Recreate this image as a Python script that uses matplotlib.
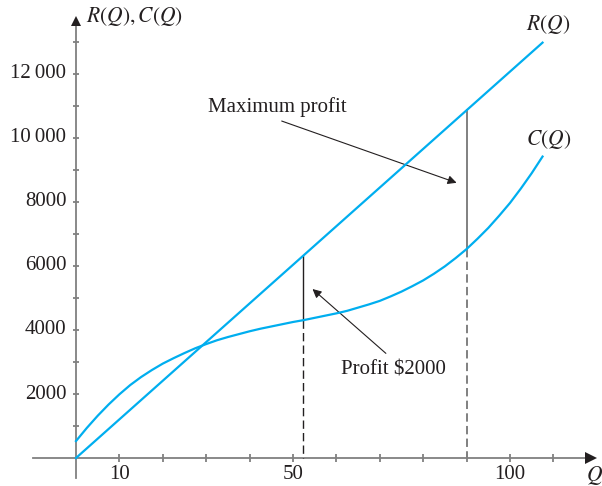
import matplotlib
matplotlib.use('Agg')
import matplotlib.pyplot as plt
import numpy as np

plt.rcParams['font.family'] = ['Liberation Serif', 'DejaVu Serif']
plt.rcParams['mathtext.fontset'] = 'stix'

# data
q_rev = [0, 107.5]
revenue = [0, 12980]

q_cost = [0, 2.5, 5, 7.5, 10, 12.5, 15, 17.5, 20, 22.5, 25, 27.5, 30, 32.5,
          35, 37.5, 40, 42.5, 45, 47.5, 50, 52.5, 55, 57.5, 60, 62.5, 65,
          67.5, 70, 72.5, 75, 77.5, 80, 82.5, 85, 87.5, 90, 92.5, 95, 97.5,
          100, 102.5, 105, 107.5]
cost = [530, 940, 1320, 1670, 1990, 2280, 2530, 2750, 2950, 3120, 3280, 3430,
        3560, 3680, 3780, 3870, 3960, 4040, 4110, 4180, 4250, 4310, 4380,
        4450, 4520, 4600, 4700, 4800, 4910, 5050, 5200, 5370, 5550, 5760,
        5990, 6250, 6530, 6850, 7190, 7570, 7970, 8420, 8900, 9420]

q_marks = [52.2, 90]          # profit $2000 and maximum profit
x_ticks = [10, 20, 30, 40, 50, 60, 70, 80, 90, 100, 110]
x_labels = {10: '10', 50: '50', 100: '100'}
y_ticks = list(range(1000, 14000, 1000))
y_labels = {2000: '2000', 4000: '4000', 6000: '6000', 8000: '8000',
            10000: '10\u2009000', 12000: '12\u2009000'}

blue = '#00AEEF'
ink = '#231F20'
axis_col = '#808080'

fig = plt.figure(figsize=(6.02, 4.86), dpi=100)
ax = fig.add_axes([0, 0, 1, 1])
ax.set_xlim(-17.51, 121.2)
ax.set_ylim(-875, 14312.5)
ax.axis('off')

# axes with arrows
ax.plot([-9.9, 118.5], [0, 0], color=axis_col, lw=1.3, zorder=1)
ax.plot([0, 0], [-625, 13500], color=axis_col, lw=1.3, zorder=1)
ax.plot(118.6, 0, marker='>', ms=8, color=ink, mew=0, zorder=3)
ax.plot(0, 13650, marker='^', ms=7, color=ink, mew=0, zorder=3)

# ticks
ax.vlines(x_ticks, -125, 125, color=axis_col, lw=1.3)
ax.hlines(y_ticks, -0.8, 0.8, color=axis_col, lw=1.3)
for x, lab in x_labels.items():
    ax.text(x, -500, lab, ha='center', va='center', fontsize=15, color=ink)
for y, lab in y_labels.items():
    ax.text(-2.2, y, lab, ha='right', va='center', fontsize=15, color=ink)

ax.text(2.2, 13800, r'$R(Q), C(Q)$', ha='left', va='center', fontsize=15.5, color=ink)
ax.text(119.5, -560, r'$Q$', ha='center', va='center', fontsize=15.5, color=ink)

# curves
ax.plot(q_rev, revenue, color=blue, lw=1.6, zorder=4)
ax.plot(q_cost, cost, color=blue, lw=1.6, zorder=4, solid_joinstyle='round')
ax.text(108.8, 13550, r'$R(Q)$', ha='center', va='center', fontsize=15.5, color=ink)
ax.text(108.8, 9940, r'$C(Q)$', ha='center', va='center', fontsize=15.5, color=ink)

# profit segments
r_m = np.interp(q_marks, q_rev, revenue)
c_m = np.interp(q_marks, q_cost, cost)
ax.plot([q_marks[0]] * 2, [c_m[0], r_m[0]], color=ink, lw=1.0, zorder=2)
ax.plot([q_marks[0]] * 2, [c_m[0], 0], color=ink, lw=1.0, ls=(0, (6, 3)), zorder=2)
ax.plot([q_marks[1]] * 2, [c_m[1], r_m[1]], color=axis_col, lw=1.4, zorder=2)
ax.plot([q_marks[1]] * 2, [c_m[1], 0], color=axis_col, lw=1.4, ls=(0, (4.3, 2.2)), zorder=2)

# annotations
arrow = dict(arrowstyle='-|>', color=ink, lw=0.8, mutation_scale=13,
             shrinkA=0, shrinkB=0)
ax.text(30.4, 10810, 'Maximum profit', ha='left', va='baseline', fontsize=15, color=ink)
ax.annotate('', xy=(87.7, 8600), xytext=(47.4, 10530), arrowprops=arrow)
ax.text(61, 2625, 'Profit $2000', ha='left', va='baseline', fontsize=15, color=ink)
ax.annotate('', xy=(54.5, 5280), xytext=(71.4, 3270), arrowprops=arrow)

plt.savefig('out.png', dpi=100)
plt.close()
